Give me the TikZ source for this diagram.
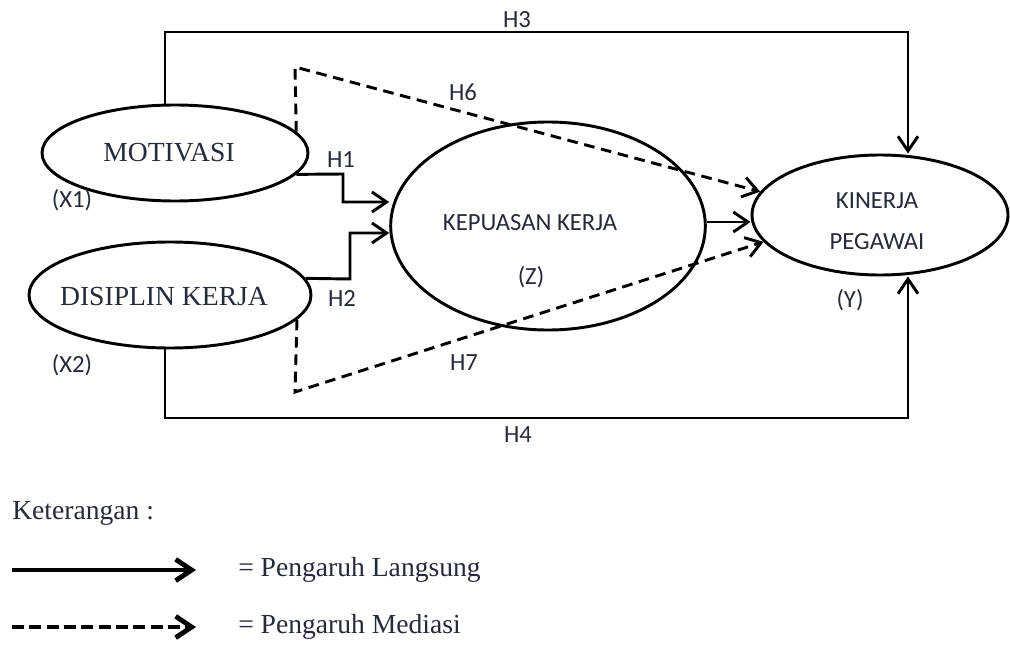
\documentclass[tikz,border=0pt]{standalone}
\usepackage{fontspec}
\setmainfont{Liberation Serif}
\newfontfamily\lblfont{Carlito}
\usetikzlibrary{arrows.meta,shapes.geometric,calc}
\definecolor{txt}{RGB}{38,43,60}
\begin{document}
\begin{tikzpicture}[x=0.75pt,y=-0.75pt,
  ell/.style={draw=black,line width=2.2pt,ellipse,inner sep=0pt,fill=none},
  serif/.style={font=\fontsize{20.7}{23}\selectfont,text=txt,inner sep=0pt},
  sans/.style={font=\lblfont\fontsize{18.5}{22}\selectfont,text=txt,inner sep=0pt,align=center},
  direct/.style={line width=2.2pt,-{Straight Barb[length=11pt,width=15pt]}},
  medi/.style={line width=2.2pt,dash pattern=on 8pt off 5pt,-{Straight Barb[length=11pt,width=15pt]}},
  legsolid/.style={line width=3.6pt,-{Straight Barb[length=12pt,width=16pt]}},
  legdash/.style={line width=3.6pt,dash pattern=on 9pt off 4pt,-{Straight Barb[length=12pt,width=16pt]}},
  line join=miter]
\useasboundingbox (0,0) rectangle (1010,645);

% ellipses (sizes in pt: 1px = 0.75pt)
\node[ell,minimum width=199.5pt,minimum height=72pt] (mot) at (175,153) {};
\node[ell,minimum width=211.5pt,minimum height=79.5pt] (dis) at (170,295) {};
\node[ell,minimum width=236pt,minimum height=156pt] (kep) at (548,226) {};
\node[ell,minimum width=192pt,minimum height=90pt] (kin) at (880,215) {};

% texts
\node[serif] (tmot) at (169,153) {MOTIVASI};
\node[serif] (tdis) at (164,296) {DISIPLIN KERJA};
\node[sans] (tkep) at (530,223) {KEPUASAN KERJA};
\node[sans] (tz) at (531,277) {(Z)};
\node[sans,align=center] (tkin) at (877,221) {KINERJA\\[9pt]PEGAWAI};
\node[sans] (ty) at (850,300) {(Y)};
\node[sans] (tx1) at (72,200) {(X1)};
\node[sans] (tx2) at (72,365) {(X2)};

% corner coordinates
\coordinate (c3a) at (165,32);
\coordinate (c3b) at (908,32);
\coordinate (c4a) at (165,418);
\coordinate (c4b) at (908,418);
\coordinate (h1a) at (343,174);
\coordinate (h1b) at (343,202);
\coordinate (h2a) at (350,279);
\coordinate (h2b) at (350,233);
\coordinate (h6a) at (295,67);
\coordinate (h7a) at (295,392);

% H3 and H4
\draw[direct] (mot.north -| c3a) -- (c3a) -- (c3b) -- (kin.north -| c3b);
\draw[direct] (dis.south -| c4a) -- (c4a) -- (c4b) -- (kin.south -| c4b);
% H1 and H2
\draw[direct] (mot.-10) -- (h1a) -- (h1b) -- (h1b -| kep.west);
\draw[direct] (dis.7) -- (h2a) -- (h2b) -- (h2b -| kep.west);
% Z -> Y
\coordinate (zs) at ($(kep.east)+(0,-4)$);
\draw[direct] (zs) -- (zs -| kin.west);
% H6 and H7
\draw[medi] (mot.10) -- (h6a) -- (kin.169);
\draw[medi] (dis.-11) -- (h7a) -- (kin.193);

% labels
\node[sans] (lh3) at (517,20) {H3};
\node[sans] (lh6) at (463,92) {H6};
\node[sans] (lh1) at (341,160) {H1};
\node[sans] (lh2) at (342,298) {H2};
\node[sans] (lh7) at (464,363) {H7};
\node[sans] (lh4) at (518,435) {H4};

% legend
\node[serif,anchor=west] (ket) at (12,513) {Keterangan :};
\coordinate (la) at (12,570);
\coordinate (lb) at (196,570);
\coordinate (lc) at (12,627);
\coordinate (ld) at (196,627);
\draw[legsolid] (la) -- (lb);
\draw[legdash] (lc) -- (ld);
\node[serif,anchor=west] (l1) at (238,570) {= Pengaruh Langsung};
\node[serif,anchor=west] (l2) at (238,627) {= Pengaruh Mediasi};
\end{tikzpicture}
\end{document}
